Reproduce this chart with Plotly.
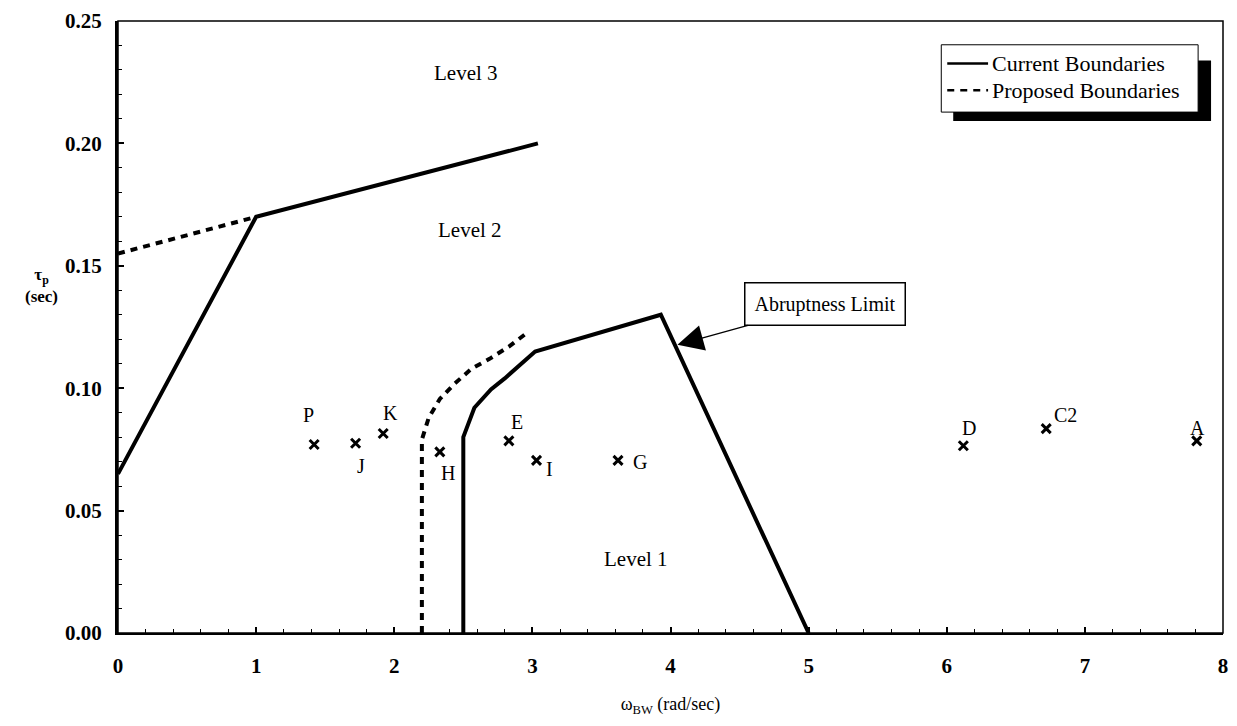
import plotly.graph_objects as go

# ---------------- data ----------------
# Current (solid) boundary between Level 2 and Level 3
cur_upper_x = [0.0, 1.0, 3.04]
cur_upper_y = [0.065, 0.170, 0.200]
# Proposed (dashed) boundary between Level 2 and Level 3
prop_upper_x = [0.0, 1.0]
prop_upper_y = [0.155, 0.170]
# Current (solid) Level 1 boundary incl. abruptness limit
cur_l1_x = [2.5, 2.5, 2.58, 2.70, 2.80, 3.02, 3.93, 5.0]
cur_l1_y = [0.0, 0.080, 0.092, 0.0995, 0.104, 0.115, 0.130, 0.0]
# Proposed (dashed) Level 1 boundary
prop_l1_x = [2.2, 2.2, 2.25, 2.33, 2.44, 2.56, 2.69, 2.83, 2.97]
prop_l1_y = [0.0, 0.079, 0.088, 0.0956, 0.102, 0.108, 0.112, 0.117, 0.123]

# Configurations (test points)
pt_names = ["P", "J", "K", "H", "E", "I", "G", "D", "C2", "A"]
pt_x = [1.42, 1.72, 1.92, 2.33, 2.83, 3.03, 3.62, 6.12, 6.72, 7.81]
pt_y = [0.077, 0.0775, 0.0815, 0.074, 0.0785, 0.0705, 0.0705, 0.0765, 0.0835, 0.0785]
# label offsets in pixels (dx, dy up)
pt_off = [(-6, 30), (5, -23), (7, 20), (8, -21), (8, 19), (13, -9), (22, -2), (6, 18), (19, 14), (1, 13)]

x_ticks = [0, 1, 2, 3, 4, 5, 6, 7, 8]
y_ticks = [0.00, 0.05, 0.10, 0.15, 0.20, 0.25]
legend_names = ["Current Boundaries", "Proposed Boundaries"]

FONT = "Liberation Serif"
W, H = 1237, 726
L, R, T, B = 118, 9, 15, 93
pw, ph = W - L - R, H - T - B
def px(xp): return (xp - L) / pw
def py(yp): return (H - B - yp) / ph

fig = go.Figure()
line_style = dict(color="black", width=4)
dash_style = dict(color="black", width=4, dash="7px,6px")

fig.add_trace(go.Scatter(x=cur_upper_x, y=cur_upper_y, mode="lines", line=line_style,
                         name=legend_names[0], showlegend=False))
fig.add_trace(go.Scatter(x=cur_l1_x, y=cur_l1_y, mode="lines", line=line_style,
                         name=legend_names[0], showlegend=False))
fig.add_trace(go.Scatter(x=prop_upper_x, y=prop_upper_y, mode="lines", line=dash_style,
                         name=legend_names[1], showlegend=False))
fig.add_trace(go.Scatter(x=prop_l1_x, y=prop_l1_y, mode="lines", line=dash_style,
                         name=legend_names[1], showlegend=False))
fig.add_trace(go.Scatter(x=pt_x, y=pt_y, mode="markers", showlegend=False,
                         marker=dict(symbol="x-thin", size=9, color="black",
                                     line=dict(color="black", width=3))))

ann = []
for n, x, y, (dx, dy) in zip(pt_names, pt_x, pt_y, pt_off):
    ann.append(dict(x=x, y=y, text=n, showarrow=False, xshift=dx, yshift=dy,
                    font=dict(family=FONT, size=20, color="black")))

for txt, x, y in [("Level 3", 2.52, 0.2286), ("Level 2", 2.55, 0.1646), ("Level 1", 3.75, 0.0303)]:
    ann.append(dict(x=x, y=y, text=txt, showarrow=False,
                    font=dict(family=FONT, size=21, color="black")))

ann.append(dict(x=4.05, y=0.1177, ax=5.12, ay=0.1343, axref="x", ayref="y",
                text="Abruptness Limit", showarrow=True, arrowhead=2, arrowsize=4,
                arrowwidth=1.3, arrowcolor="black", bordercolor="black", borderwidth=1.5,
                borderpad=9, bgcolor="white",
                font=dict(family=FONT, size=20, color="black")))

ann.append(dict(xref="paper", yref="paper", x=px(41), y=py(282), xanchor="center", yanchor="middle",
                text="τ<sub>p</sub><br>(sec)", showarrow=False, align="center",
                font=dict(family=FONT, size=17, color="black", weight="bold")))

# legend (drawn by hand: box, shadow, samples, labels)
LG_X0, LG_X1, LG_Y0, LG_Y1 = 945, 1203, 39, 107
rows = [58, 85]
shapes = [
    dict(type="rect", xref="paper", yref="paper", x0=0, y0=0, x1=1, y1=1,
         line=dict(color="black", width=1.5)),
    dict(type="rect", xref="paper", yref="paper", x0=px(LG_X0 + 12), x1=px(LG_X1 + 13),
         y0=py(LG_Y1 + 9), y1=py(LG_Y0 + 16), fillcolor="black", line=dict(width=0), layer="above"),
    dict(type="rect", xref="paper", yref="paper", x0=px(LG_X0), x1=px(LG_X1),
         y0=py(LG_Y1), y1=py(LG_Y0), fillcolor="white", line=dict(color="black", width=1), layer="above"),
]
for r, st in zip(rows, [line_style, dash_style]):
    shapes.append(dict(type="line", xref="paper", yref="paper", x0=px(951), x1=px(992),
                       y0=py(r), y1=py(r), line=dict(color="black", width=2.5,
                                                    dash=st.get("dash", "solid")), layer="above"))
for r, nm in zip(rows, legend_names):
    ann.append(dict(xref="paper", yref="paper", x=px(994), y=py(r), xanchor="left", yanchor="middle",
                    text=nm, showarrow=False, font=dict(family=FONT, size=22, color="black")))

fig.update_layout(
    width=W, height=H,
    margin=dict(l=L, r=R, t=T, b=B),
    paper_bgcolor="white", plot_bgcolor="white",
    font=dict(family=FONT, color="black"),
    showlegend=False,
    annotations=ann,
    shapes=shapes,
)
fig.update_xaxes(range=[0, 8], tickvals=x_ticks, ticktext=[str(v) for v in x_ticks],
                 showgrid=False, zeroline=False, showline=True, linecolor="black", linewidth=2,
                 ticks="inside", ticklen=6, tickwidth=1.5, tickcolor="black",
                 ticklabelstandoff=13,
                 minor=dict(dtick=0.2, ticks="inside", ticklen=4, tickcolor="black", tickwidth=1),
                 tickfont=dict(family=FONT, size=21, color="black", weight="bold"),
                 title=dict(text="ω<sub>BW</sub> (rad/sec)", standoff=20,
                            font=dict(family=FONT, size=18, color="black")))
fig.update_yaxes(range=[0, 0.25], tickvals=y_ticks, ticktext=[f"{v:.2f}" for v in y_ticks],
                 showgrid=False, zeroline=False, showline=True, linecolor="black", linewidth=3,
                 ticks="inside", ticklen=6, tickwidth=1.5, tickcolor="black",
                 ticklabelstandoff=9,
                 minor=dict(dtick=0.01, ticks="inside", ticklen=4, tickcolor="black", tickwidth=1),
                 tickfont=dict(family=FONT, size=21, color="black", weight="bold"))

fig.write_html("out.html")
